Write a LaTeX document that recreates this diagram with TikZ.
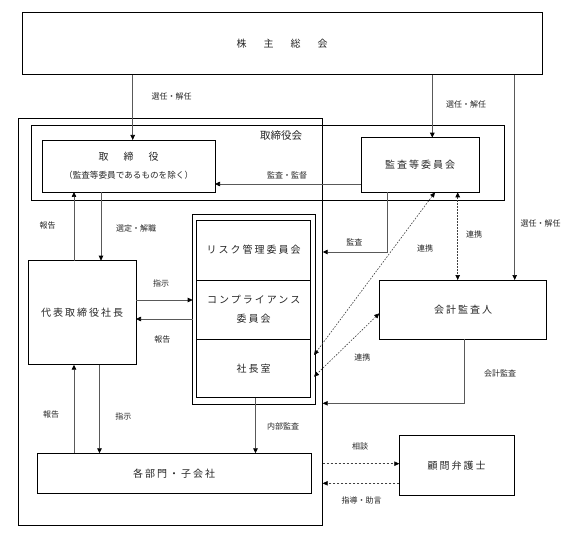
\documentclass[tikz,border=0pt]{standalone}
\usepackage{fontspec}
\setmainfont{Noto Sans CJK JP}
\newfontfamily\jpw[LetterSpace=20]{Noto Sans CJK JP}
\usetikzlibrary{arrows.meta}
\begin{document}
\begin{tikzpicture}[x=1pt,y=-1pt,
  >={Triangle[length=5pt,width=4.5pt,color=black]},
  box/.style={draw=black, line width=0.9pt, inner sep=0pt, outer sep=0pt,
    font=\jpw\fontsize{10}{12}\selectfont, text=black!85, align=center},
  frame/.style={draw=black, line width=0.9pt, inner sep=0pt, outer sep=0pt},
  conn/.style={draw=black!65, line width=0.7pt},
  arr/.style={conn, ->},
  dotln/.style={draw=black!75, line width=0.6pt, dash pattern=on 1.6pt off 1.4pt},
  dshln/.style={draw=black!75, line width=0.6pt, dash pattern=on 2.4pt off 1.6pt},
  lbl/.style={font=\fontsize{8}{9}\selectfont, text=black!85, inner sep=0pt}
]
\useasboundingbox (0,0) rectangle (570,548);
\fill[white] (0,0) rectangle (570,548);

% boxes
\node[box, minimum width=519.7pt, minimum height=62.4pt] (top) at (282.15,43.5)
  {株\hspace{17pt}主\hspace{17pt}総\hspace{17pt}会};
\node[frame, minimum width=304.2pt, minimum height=407pt] (outer) at (170.6,321.8) {};
\node[frame, minimum width=473.3pt, minimum height=75.7pt] (board) at (267.65,162.85) {};
\node[box, minimum width=172.7pt, minimum height=52pt] (tori) at (128.65,166) {};
\node[font=\fontsize{10}{12}\selectfont, text=black!85, inner sep=0pt] (toriA) at (tori.center |- 0,156.7)
  {取\hspace{15pt}締\hspace{15pt}役};
\node[font=\fontsize{8.6}{10}\selectfont, text=black!85, inner sep=0pt] (toriB) at (tori.center |- 0,175.7)
  {（監査等委員であるものを除く）};
\node[box, minimum width=117.7pt, minimum height=54.6pt] (kansa) at (420.15,165) {監査等委員会};
\node[box, minimum width=107.7pt, minimum height=104pt] (daihyo) at (82.15,312.7) {代表取締役社長};
\node[frame, minimum width=123pt, minimum height=190.4pt] (dbl) at (254.2,309.5) {};
\node[box, minimum width=114pt, minimum height=60pt] (risk) at (253.7,250) {リスク管理委員会};
\node[box, minimum width=114pt, minimum height=59.3pt] (comp) at (253.7,309.65)
  {コンプライアンス\\[7pt]委員会};
\node[box, minimum width=114pt, minimum height=58.4pt] (shacho) at (253.7,368.5) {社長室};
\node[box, minimum width=167.4pt, minimum height=59.3pt] (kaikei) at (463,309.65) {会計監査人};
\node[box, minimum width=273.6pt, minimum height=40pt] (bumon) at (174.2,473.3) {各部門・子会社};
\node[box, minimum width=114.7pt, minimum height=60pt] (komon) at (456.65,465.7) {顧問弁護士};

\node[font=\fontsize{10.5}{12}\selectfont, text=black!85, inner sep=0pt] (boardlbl) at (281,135.7) {取締役会};

% connectors
\coordinate (x1) at (132.7,0);
\draw[arr] (top.south -| x1) -- (tori.north -| x1);
\coordinate (x2) at (432.3,0);
\draw[arr] (top.south -| x2) -- (kansa.north -| x2);
\coordinate (x3) at (514.7,0);
\draw[arr] (top.south -| x3) -- (kaikei.north -| x3);
\coordinate (y4) at (0,184);
\draw[arr] (kansa.west |- y4) -- (tori.east |- y4);
\coordinate (k5) at (387.3,252);
\draw[arr] (kansa.south -| k5) |- (outer.east |- k5);

\coordinate (d1x) at (435,0);
\coordinate (d1b) at (314,355);
\draw[dotln,<->] (kansa.south -| d1x) -- (d1b);
\coordinate (d2y) at (0,313.3);
\coordinate (d2b) at (314,376.7);
\draw[dotln,<->] (kaikei.west |- d2y) -- (d2b);
\coordinate (d3x) at (457.7,0);
\draw[dotln,<->] (kansa.south -| d3x) -- (kaikei.north -| d3x);

\coordinate (k9) at (464,403.3);
\draw[arr] (kaikei.south -| k9) |- (outer.east |- k9);

\coordinate (xa) at (74,0);
\coordinate (xb) at (101,0);
\draw[arr] (daihyo.north -| xa) -- (tori.south -| xa);
\draw[arr] (tori.south -| xb) -- (daihyo.north -| xb);

\coordinate (ya) at (0,300);
\coordinate (yb) at (0,319);
\draw[arr] (daihyo.east |- ya) -- (dbl.west |- ya);
\draw[arr] (dbl.west |- yb) -- (daihyo.east |- yb);

\coordinate (xc) at (99.5,0);
\draw[arr] (bumon.north -| xa) -- (daihyo.south -| xa);
\draw[arr] (daihyo.south -| xc) -- (bumon.north -| xc);

\coordinate (xd) at (255.5,0);
\draw[arr] (shacho.south -| xd) -- (bumon.north -| xd);

\coordinate (ye) at (0,463.7);
\draw[dshln,->] (outer.east |- ye) -- (komon.west |- ye);
\coordinate (yf) at (0,483.3);
\draw[dshln,->] (komon.west |- yf) -- (outer.east |- yf);

% labels
\node[lbl] (l1) at (171.7,96.7) {選任・解任};
\node[lbl] (l2) at (466,104) {選任・解任};
\node[lbl] (l3) at (540.7,223.3) {選任・解任};
\node[lbl] (l4) at (287,175.7) {監査・監督};
\node[lbl] (l5) at (47.7,225) {報告};
\node[lbl] (l6) at (136,228.3) {選定・解職};
\node[lbl] (l7) at (354.3,242.7) {監査};
\node[lbl] (l8) at (425,248.3) {連携};
\node[lbl] (l9) at (474,234.3) {連携};
\node[lbl] (l10) at (161,283.3) {指示};
\node[lbl] (l11) at (162.3,339.3) {報告};
\node[lbl] (l12) at (362.3,357.3) {連携};
\node[lbl] (l13) at (500,373.3) {会計監査};
\node[lbl] (l14) at (51.2,414.3) {報告};
\node[lbl] (l15) at (123.4,416) {指示};
\node[lbl] (l16) at (283.1,426.7) {内部監査};
\node[lbl] (l17) at (360,446.7) {相談};
\node[lbl] (l18) at (361.7,500) {指導・助言};
\end{tikzpicture}
\end{document}
